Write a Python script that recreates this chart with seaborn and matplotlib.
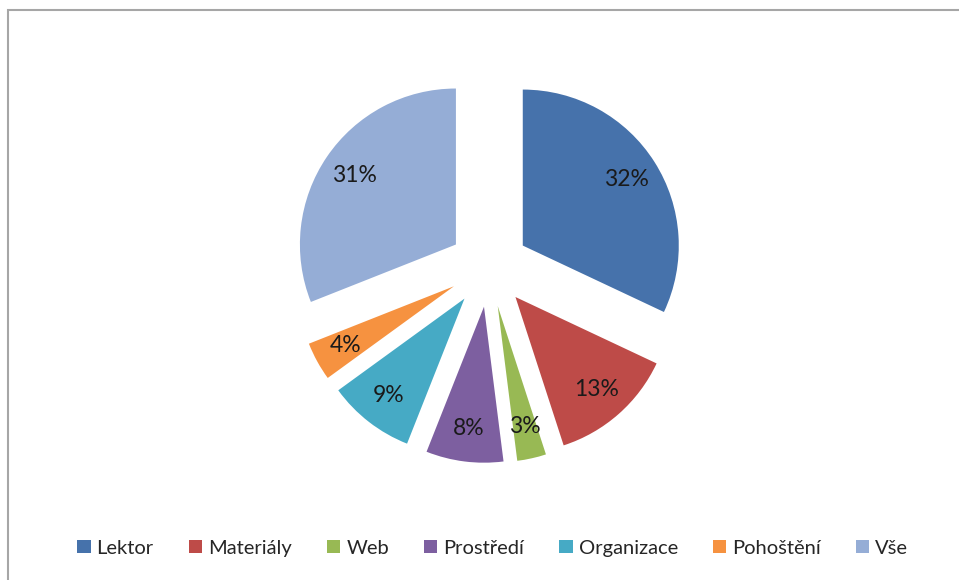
import seaborn as sns
import matplotlib.pyplot as plt
from matplotlib.patches import Patch, Rectangle

sns.set_theme(style='white')
plt.rcParams['font.family'] = ['Lato', 'DejaVu Sans']

categories = ['Lektor', 'Materiály', 'Web', 'Prostředí', 'Organizace', 'Pohoštění', 'Vše']
shares = [32, 13, 3, 8, 9, 4, 31]
colors = ['#4672AB', '#BE4B48', '#98B954', '#7D5FA0', '#46AAC5', '#F69240', '#95ADD6']

fig = plt.figure(figsize=(9.59, 5.80), dpi=100)
ax = fig.add_axes([0, 0, 1, 1])

# outer frame of the chart area (only top and left edge visible)
ax.add_patch(Rectangle((8, -20), 980, 590, fill=False, edgecolor='#a6a6a6', linewidth=1.5))

# explode is in data units here (pixels), radius too
wedges, texts, autotexts = ax.pie(
    shares,
    colors=colors,
    explode=[40] * len(shares),
    startangle=90,
    counterclock=False,
    center=(489, 313),
    radius=156,
    autopct='%d%%',
    pctdistance=0.79,
    textprops={'fontsize': 16.5, 'color': '#1a1a1a'},
    wedgeprops={'linewidth': 0},
    frame=True,
)
ax.set_xlim(0, 959)
ax.set_ylim(0, 580)
ax.set_aspect('equal')
ax.axis('off')

handles = [Patch(facecolor=c, edgecolor='none') for c in colors]
fig.legend(handles, categories, loc='center', bbox_to_anchor=(0.514, 0.055), ncol=7,
           frameon=False, fontsize=14.5, handlelength=0.65, handleheight=0.65,
           handletextpad=0.3, columnspacing=1.75)

fig.savefig('out.png', dpi=100, facecolor='white')
